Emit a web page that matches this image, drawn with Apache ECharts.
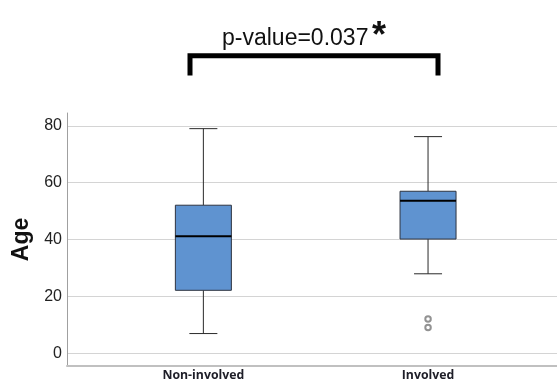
<!DOCTYPE html>
<html>
<head>
<meta charset="utf-8">
<script src="https://cdn.jsdelivr.net/npm/echarts@6/dist/echarts.min.js"></script>
<style>
  html, body { margin: 0; padding: 0; background: #fff; }
  #chart { width: 557px; height: 386px; }
</style>
</head>
<body>
<div id="chart"></div>
<script>
// groups sit at x = 0 and x = 1 on a value axis
const groups = ['Non-involved', 'Involved'];
const groupPos = [0, 1];
const whiskerLow = [7, 28];
const q1 = [22.2, 40.2];
const median = [41.2, 53.7];
const q3 = [52.1, 57];
const whiskerHigh = [79, 76.2];
const outliers = [[1, 12.1], [1, 9.1]];
const yTicks = [0, 20, 40, 60, 80];

const boxData = groups.map((g, i) => [groupPos[i], whiskerLow[i], q1[i], median[i], q3[i], whiskerHigh[i]]);

const chart = echarts.init(document.getElementById('chart'));

chart.setOption({
  animation: false,
  grid: { left: 67, right: 0, top: 113, bottom: 20 },
  xAxis: {
    type: 'value',
    min: -0.607,
    max: 1.574,
    axisLine: { onZero: false, lineStyle: { color: '#c0c0c0', width: 2 } },
    axisTick: { show: false, customValues: groupPos },
    axisLabel: {
      customValues: groupPos,
      formatter: v => groups[Math.round(v)],
      margin: 3,
      fontFamily: 'Open Sans',
      fontWeight: 'bold',
      fontSize: 12.3,
      color: '#1e1e28'
    },
    splitLine: { show: false }
  },
  yAxis: {
    type: 'value',
    min: -4.4,
    max: 84.5,
    name: 'Age',
    nameLocation: 'middle',
    nameGap: 31,
    nameTextStyle: {
      fontFamily: 'Liberation Sans',
      fontWeight: 'bold',
      fontSize: 23,
      color: '#111'
    },
    axisLine: { show: true, onZero: false, lineStyle: { color: '#a0a0a0', width: 1 } },
    axisTick: { show: false, customValues: yTicks },
    axisLabel: {
      customValues: yTicks,
      margin: 5,
      fontFamily: 'Liberation Sans',
      fontSize: 16,
      color: '#222'
    },
    splitLine: { show: true, lineStyle: { color: '#d4d4d4', width: 1 } }
  },
  series: [
    {
      type: 'custom',
      data: boxData,
      clip: false,
      renderItem: (params, api) => {
        const x = api.value(0);
        const lo = api.coord([x, api.value(1)]);
        const b1 = api.coord([x, api.value(2)]);
        const md = api.coord([x, api.value(3)]);
        const b3 = api.coord([x, api.value(4)]);
        const hi = api.coord([x, api.value(5)]);
        const bw = 56, cw = 28;
        const cx = lo[0];
        const wStyle = { stroke: '#2a2a2a', lineWidth: 1 };
        return {
          type: 'group',
          children: [
            { type: 'line', shape: { x1: cx, y1: hi[1], x2: cx, y2: b3[1] }, style: wStyle },
            { type: 'line', shape: { x1: cx, y1: b1[1], x2: cx, y2: lo[1] }, style: wStyle },
            { type: 'line', shape: { x1: cx - cw / 2, y1: hi[1], x2: cx + cw / 2, y2: hi[1] }, style: wStyle },
            { type: 'line', shape: { x1: cx - cw / 2, y1: lo[1], x2: cx + cw / 2, y2: lo[1] }, style: wStyle },
            {
              type: 'rect',
              shape: { x: cx - bw / 2, y: b3[1], width: bw, height: b1[1] - b3[1] },
              style: { fill: '#5f93d0', stroke: '#2e3440', lineWidth: 1 }
            },
            { type: 'line', shape: { x1: cx - bw / 2, y1: md[1], x2: cx + bw / 2, y2: md[1] }, style: { stroke: '#000', lineWidth: 2 } }
          ]
        };
      }
    },
    {
      type: 'scatter',
      data: outliers,
      symbol: 'emptyCircle',
      symbolSize: 5.5,
      itemStyle: { color: '#777', borderColor: '#777', borderWidth: 1 }
    }
  ],
  graphic: [
    {
      type: 'polyline',
      shape: { points: [[190, 75.5], [190, 55.8], [438, 55.8], [438, 75.5]] },
      style: { stroke: '#000', lineWidth: 5, fill: null, lineJoin: 'miter' }
    },
    {
      type: 'text',
      style: {
        x: 222, y: 38.5,
        text: 'p-value=0.037',
        font: '23px "Liberation Sans"',
        fill: '#111',
        textAlign: 'left',
        textVerticalAlign: 'middle'
      }
    },
    {
      type: 'text',
      style: {
        x: 372, y: 37.5,
        text: '*',
        font: 'bold 36px "Liberation Sans"',
        fill: '#111',
        textAlign: 'left',
        textVerticalAlign: 'middle'
      }
    }
  ]
});
</script>
</body>
</html>
